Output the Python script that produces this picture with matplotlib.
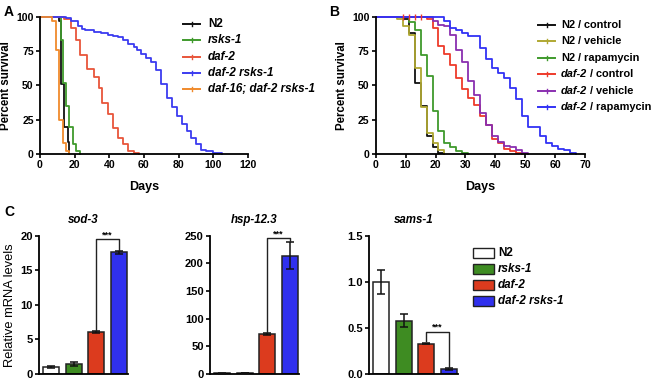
import matplotlib
matplotlib.use("Agg")
import matplotlib.pyplot as plt
from matplotlib.lines import Line2D
from matplotlib.patches import Rectangle

plt.rcParams['font.family'] = ['Liberation Sans', 'DejaVu Sans']

W, H = 656, 380
DPI = 100

# ---------------- Data: panel A ----------------
a_n2_days = [0, 11, 12, 14, 16, 17]
a_n2_surv = [100, 97, 51, 20, 9, 0]
a_rsks_days = [0, 12, 13, 15, 17, 19, 21, 23]
a_rsks_surv = [100, 83, 52, 35, 20, 7, 2, 0]
a_daf2_days = [0, 14, 18, 21, 23, 27, 31, 34, 36, 39, 42, 45, 48, 51, 54, 57]
a_daf2_surv = [100, 98, 92, 83, 72, 62, 56, 48, 37, 29, 19, 12, 7, 2, 1, 0]
a_dr_days = [0, 15, 18, 22, 24, 26, 31, 35, 39, 42, 45, 48, 51, 54, 56, 58, 61, 64, 67, 70,
             73, 76, 79, 82, 85, 87, 90, 93, 96, 100, 105]
a_dr_surv = [100, 99, 97, 93, 91, 90, 89, 88, 87, 86, 85, 83, 80, 78, 76, 73, 70, 67, 61, 51,
             41, 34, 28, 22, 17, 12, 7, 3, 2, 1, 0]
a_d16_days = [0, 7, 9, 11, 13, 15, 17]
a_d16_surv = [100, 97, 76, 25, 8, 2, 0]
a_labels = ["N2", "rsks-1", "daf-2", "daf-2 rsks-1", "daf-16; daf-2 rsks-1"]
a_italic = [False, True, True, True, True]
a_colors = ["#111111", "#3f9a2c", "#e8553a", "#3b3bf0", "#f08a2c"]

# ---------------- Data: panel B ----------------
b_n2c_days = [0, 9, 11, 13, 15, 17, 19, 21, 23]
b_n2c_surv = [100, 98, 88, 52, 35, 13, 5, 1, 0]
b_n2v_days = [0, 7, 9, 11, 13, 15, 17, 19, 21, 23]
b_n2v_surv = [100, 98, 93, 87, 63, 34, 15, 8, 3, 0]
b_n2r_days = [0, 11, 13, 15, 17, 19, 21, 23, 25, 27, 29, 31]
b_n2r_surv = [100, 96, 90, 72, 57, 31, 17, 8, 5, 2, 1, 0]
b_d2c_days = [0, 17, 19, 21, 23, 25, 27, 29, 31, 33, 35, 37, 39, 41, 43, 45, 47, 49]
b_d2c_surv = [100, 98, 92, 79, 73, 65, 55, 47, 41, 36, 28, 21, 11, 8, 4, 2, 1, 0]
b_d2v_days = [0, 19, 21, 23, 25, 27, 29, 31, 33, 35, 37, 39, 41, 43, 45, 47, 49, 51]
b_d2v_surv = [100, 97, 94, 93, 87, 76, 67, 53, 43, 30, 21, 13, 9, 6, 5, 3, 1, 0]
b_d2r_days = [0, 23, 25, 27, 29, 31, 35, 37, 39, 41, 43, 45, 47, 49, 51, 55, 57, 59, 61, 63, 65, 67]
b_d2r_surv = [100, 97, 92, 90, 88, 86, 77, 69, 63, 59, 55, 48, 40, 28, 20, 13, 8, 6, 4, 3, 1, 0]
b_d2c_censor_days = [9, 11, 13, 15]
b_labels = [("N2", " / control"), ("N2", " / vehicle"), ("N2", " / rapamycin"),
            ("daf-2", " / control"), ("daf-2", " / vehicle"), ("daf-2", " / rapamycin")]
b_italic = [False, False, False, True, True, True]
b_colors = ["#111111", "#b0a832", "#3f9a2c", "#ee3a2a", "#8a2fb0", "#3232f5"]

# ---------------- Data: panel C ----------------
c_genotypes = ["N2", "rsks-1", "daf-2", "daf-2 rsks-1"]
c_italic = [False, True, True, True]
c_colors = ["#ffffff", "#3e8c22", "#dc3b1e", "#3030ee"]
c_genes = ["sod-3", "hsp-12.3", "sams-1"]
sod3_mean = [1.0, 1.5, 6.1, 17.6]
sod3_err = [0.1, 0.3, 0.15, 0.2]
hsp_mean = [1.0, 1.5, 73.0, 214.0]
hsp_err = [0.3, 0.4, 2.0, 25.0]
sams_mean = [1.0, 0.58, 0.33, 0.05]
sams_err = [0.13, 0.07, 0.01, 0.01]
c_means = [sod3_mean, hsp_mean, sams_mean]
c_errs = [sod3_err, hsp_err, sams_err]
c_ylims = [20, 250, 1.5]
c_yticks = [[0, 5, 10, 15, 20], [0, 50, 100, 150, 200, 250], [0.0, 0.5, 1.0, 1.5]]
c_yticklabels = [["0", "5", "10", "15", "20"], ["0", "50", "100", "150", "200", "250"],
                 ["0.0", "0.5", "1.0", "1.5"]]
c_bracket = [19.5, 245, 0.46]
c_bracket_ends = [(6.4, 17.95), (76, 241), (0.355, 0.07)]

fig = plt.figure(figsize=(W / DPI, H / DPI), dpi=DPI)


def ax_px(left, top, right, bottom):
    return fig.add_axes([left / W, 1 - bottom / H, (right - left) / W, (bottom - top) / H])


def style(ax, ls=7.6):
    for s in ["top", "right"]:
        ax.spines[s].set_visible(False)
    for s in ["left", "bottom"]:
        ax.spines[s].set_linewidth(1.3)
    ax.tick_params(direction="out", width=1.2, length=3, labelsize=ls, pad=1.5)
    for lab in ax.get_xticklabels() + ax.get_yticklabels():
        lab.set_fontweight("bold")


def txt(x, y, s, **kw):
    return fig.text(x / W, 1 - y / H, s, **kw)


renderer = fig.canvas.get_renderer()


def legend_line(x, y, color, parts, tx, fs):
    fig.add_artist(Line2D([x / W, (x + 17) / W], [1 - y / H, 1 - y / H], color=color, lw=1.4))
    fig.add_artist(Line2D([(x + 8.5) / W] * 2, [1 - (y - 2) / H, 1 - (y + 2) / H], color=color, lw=1.0))
    cx = tx
    for s, it in parts:
        t = txt(cx, y, s, fontsize=fs, fontweight="bold", style="italic" if it else "normal",
                va="center", ha="left")
        bb = t.get_window_extent(renderer)
        cx += bb.width


# ---------------- Panel A ----------------
axA = ax_px(40, 16.7, 248, 154)
series_a = [(a_n2_days, a_n2_surv), (a_rsks_days, a_rsks_surv), (a_daf2_days, a_daf2_surv),
            (a_dr_days, a_dr_surv), (a_d16_days, a_d16_surv)]
for (d, s), c in zip(series_a, a_colors):
    axA.step(d, s, where="post", color=c, lw=1.3, clip_on=False)
axA.set_xlim(0, 120)
axA.set_ylim(0, 100)
axA.set_xticks([0, 20, 40, 60, 80, 100, 120])
axA.set_yticks([0, 25, 50, 75, 100])
style(axA)
axA.set_xlabel("Days", fontsize=9, fontweight="bold", labelpad=8)
axA.set_ylabel("Percent survival", fontsize=8.3, fontweight="bold", labelpad=3)
for i, (lab, it, c) in enumerate(zip(a_labels, a_italic, a_colors)):
    legend_line(183, 24 + i * 16.3, c, [(lab, it)], 208, 8.4)
txt(4, 12, "A", fontsize=10, fontweight="bold", va="center")

# ---------------- Panel B ----------------
axB = ax_px(375.7, 16.7, 585, 154)
series_b = [(b_n2c_days, b_n2c_surv), (b_n2v_days, b_n2v_surv), (b_n2r_days, b_n2r_surv),
            (b_d2c_days, b_d2c_surv), (b_d2v_days, b_d2v_surv), (b_d2r_days, b_d2r_surv)]
for (d, s), c in zip(series_b, b_colors):
    axB.step(d, s, where="post", color=c, lw=1.3, clip_on=False)
axB.plot(b_d2c_censor_days, [100] * len(b_d2c_censor_days), ls="none", marker="|",
         ms=4, mew=1.0, color=b_colors[3], clip_on=False)
axB.set_xlim(0, 70)
axB.set_ylim(0, 100)
axB.set_xticks([0, 10, 20, 30, 40, 50, 60, 70])
axB.set_yticks([0, 25, 50, 75, 100])
style(axB)
axB.set_xlabel("Days", fontsize=9, fontweight="bold", labelpad=8)
axB.set_ylabel("Percent survival", fontsize=8.3, fontweight="bold", labelpad=3)
for i, ((a, b), it, c) in enumerate(zip(b_labels, b_italic, b_colors)):
    legend_line(538, 25 + i * 16.4, c, [(a, it), (b, False)], 561, 7.9)
txt(329, 12, "B", fontsize=10, fontweight="bold", va="center")

# ---------------- Panel C ----------------
c_axes_px = [(39, 128), (210, 299), (369, 458)]
pos = [0, 1, 2, 3]
for k in range(3):
    l, r = c_axes_px[k]
    ax = ax_px(l, 235.7, r, 374)
    ax.bar(pos, c_means[k], width=0.72, color=c_colors, edgecolor="#222222", linewidth=1.1,
           zorder=2)
    ax.errorbar(pos, c_means[k], yerr=c_errs[k], fmt="none", ecolor="#111111", elinewidth=1.1,
                capsize=3, capthick=1.1, zorder=3)
    ax.set_xlim(-0.54, 3.41)
    ax.set_ylim(0, c_ylims[k])
    ax.set_xticks([])
    ax.set_yticks(c_yticks[k])
    ax.set_yticklabels(c_yticklabels[k])
    style(ax, ls=8)
    yb = c_bracket[k]
    e1, e2 = c_bracket_ends[k]
    ax.plot([2, 2, 3, 3], [e1, yb, yb, e2], color="#222222", lw=1.0, clip_on=False, zorder=4)
    ax.text(2.5, yb, "***", ha="center", va="bottom", fontsize=6.5, fontweight="bold")
    ax.set_title(c_genes[k], fontsize=8.3, fontweight="bold", style="italic", pad=9)
    if k == 0:
        ax.set_ylabel("Relative mRNA levels", fontsize=9.3, labelpad=3)

# legend C
for i, (lab, it, c) in enumerate(zip(c_genotypes, c_italic, c_colors)):
    y = 253 + i * 16
    fig.add_artist(Rectangle((473 / W, 1 - (y + 5) / H), 21 / W, 10 / H, facecolor=c,
                             edgecolor="#222222", lw=1.0))
    txt(498, y, lab, fontsize=8.4, fontweight="bold", style="italic" if it else "normal",
        va="center")
txt(4, 212, "C", fontsize=10, fontweight="bold", va="center")

fig.savefig("out.png", dpi=DPI)
